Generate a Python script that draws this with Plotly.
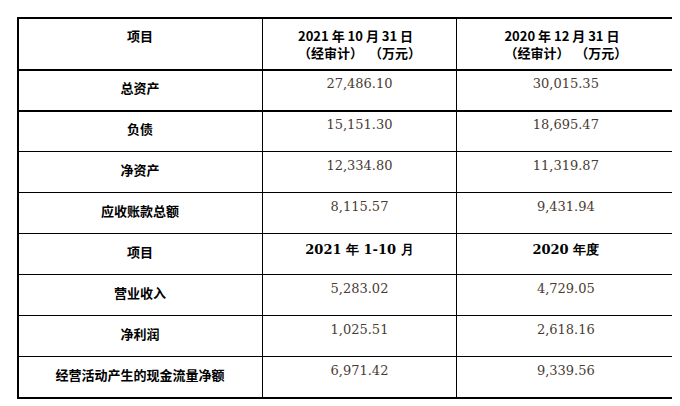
import plotly.graph_objects as go

header = ["项目", "2021 年 10 月 31 日<br>（经审计）  （万元）", "2020 年 12 月 31 日<br>（经审计）  （万元）"]
items = ["总资产", "负债", "净资产", "应收账款总额", "项目", "营业收入", "净利润", "经营活动产生的现金流量净额"]
col1 = ["27,486.10", "15,151.30", "12,334.80", "8,115.57", "2021 年 1-10 月", "5,283.02", "1,025.51", "6,971.42"]
col2 = ["30,015.35", "18,695.47", "11,319.87", "9,431.94", "2020 年度", "4,729.05", "2,618.16", "9,339.56"]

bold_rows = {4}
def fmt(vals, boldcol):
    return [f"<b>{v}</b>" if (boldcol or i in bold_rows) else v for i, v in enumerate(vals)]

num_color = "#4a3c34"
colors1 = ["#000" if i in bold_rows else num_color for i in range(len(items))]

fig = go.Figure(go.Table(
    columnwidth=[245, 195, 219],
    header=dict(values=[f"<b>{h}</b>" for h in header], height=50,
                fill_color="white", line=dict(color="black", width=1.2),
                align="center", font=dict(family="Noto Sans CJK SC", size=13, color="black")),
    cells=dict(values=[fmt(items, True), fmt(col1, False), fmt(col2, False)], height=41,
               fill_color="white", line=dict(color="black", width=1.2), align="center",
               font=dict(family=["Noto Sans CJK SC", "DejaVu Serif", "DejaVu Serif"], size=[13, 13, 13],
                         color=["black", colors1, colors1])),
))
fig.update_layout(width=680, height=406, margin=dict(l=10, r=13, t=10, b=0),
                  paper_bgcolor="white")
fig.write_html("out.html")
